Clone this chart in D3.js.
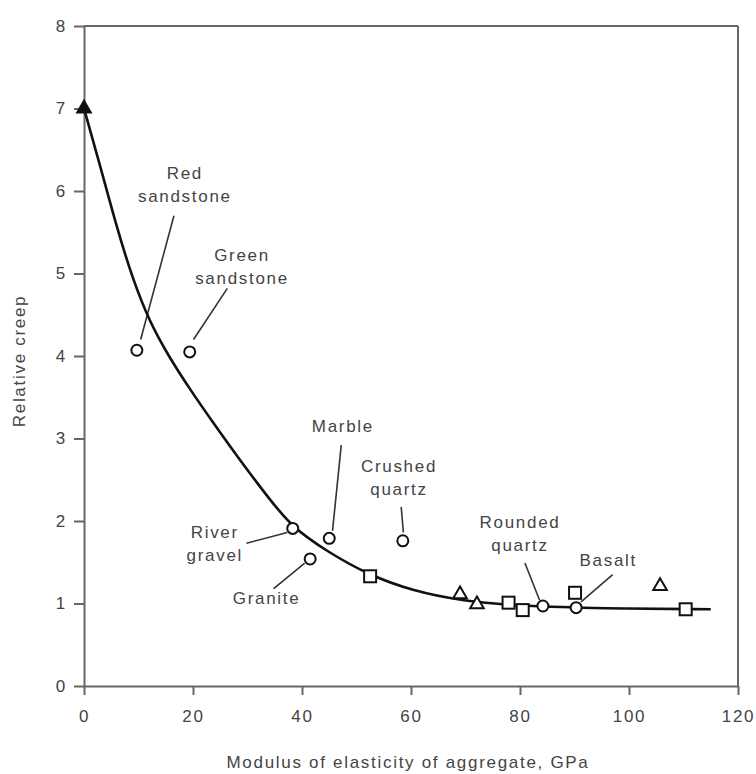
<!DOCTYPE html>
<html>
<head>
<meta charset="utf-8">
<script src="https://cdn.jsdelivr.net/npm/d3@7"></script>
<style>
  body { margin: 0; background: #fff; }
  text { font-family: "Liberation Sans", Arial, sans-serif; fill: #444; letter-spacing: 1.7px; }
</style>
</head>
<body>
<script>
// Chart size and plot margins
const width = 756;
const height = 774;
const margin = { top: 26, right: 18, bottom: 88, left: 84 };

// Data
const circlePts = [[9.7, 4.07], [19.4, 4.05], [38.3, 1.91], [41.5, 1.54], [45.0, 1.79], [58.5, 1.76], [84.2, 0.97], [90.3, 0.95]];
const squarePts = [[52.5, 1.33], [77.9, 1.01], [80.5, 0.92], [90.1, 1.13], [110.4, 0.93]];
const trianglePts = [[0, 7.0], [69.0, 1.11], [72.1, 0.99], [105.7, 1.21]];
const curvePts = [[0, 7.0], [3, 6.3], [6, 5.56], [9, 4.92], [12, 4.42], [15.5, 4.0], [19.4, 3.6], [23.7, 3.19], [29.9, 2.62], [34, 2.27], [38.1, 1.93], [44.6, 1.63], [52.1, 1.35], [60.4, 1.15], [69.5, 1.03], [80, 0.97], [95, 0.94], [115, 0.93]];
const xTicks = [0, 20, 40, 60, 80, 100, 120];
const yTicks = [0, 1, 2, 3, 4, 5, 6, 7, 8];

// Annotations: text lines, label anchor (data units), leader line end points (data units)
const labels = [
  { lines: ["Red", "sandstone"], at: [18.5, 6.15], from: [16.5, 5.7], to: [10.4, 4.2] },
  { lines: ["Green", "sandstone"], at: [29.0, 5.15], from: [26.3, 4.82], to: [20.1, 4.2] },
  { lines: ["River", "gravel"], at: [24.0, 1.8], from: [29.8, 1.73], to: [37.3, 1.86] },
  { lines: ["Granite"], at: [33.5, 1.0], from: [34.8, 1.18], to: [40.5, 1.49] },
  { lines: ["Marble"], at: [47.5, 3.08], from: [47.2, 2.92], to: [45.6, 1.88] },
  { lines: ["Crushed", "quartz"], at: [57.8, 2.6], from: [58.2, 2.17], to: [58.6, 1.86] },
  { lines: ["Rounded", "quartz"], at: [80.0, 1.92], from: [80.9, 1.49], to: [83.6, 1.04] },
  { lines: ["Basalt"], at: [96.2, 1.46], from: [97.0, 1.35], to: [91.2, 1.02] }
];

const svg = d3.select("body").append("svg")
    .attr("width", width)
    .attr("height", height);

const x = d3.scaleLinear().domain([0, 120]).range([margin.left, width - margin.right]);
const y = d3.scaleLinear().domain([0, 8]).range([height - margin.bottom, margin.top]);

const axisColor = "#666";
const fontSize = 17;

// x axis (ticks pointing down)
const xAxis = svg.append("g")
    .attr("transform", `translate(0,${y(0)})`)
    .call(d3.axisBottom(x).tickValues(xTicks).tickSize(9).tickPadding(15).tickSizeOuter(0));

// y axis (ticks pointing left)
const yAxis = svg.append("g")
    .attr("transform", `translate(${x(0)},0)`)
    .call(d3.axisLeft(y).tickValues(yTicks).tickSize(10).tickPadding(7).tickSizeOuter(0));

[xAxis, yAxis].forEach(g => {
  g.select(".domain").attr("stroke", axisColor).attr("stroke-width", 2);
  g.selectAll(".tick line").attr("stroke", axisColor).attr("stroke-width", 2);
  g.selectAll(".tick text").attr("font-size", fontSize).attr("fill", "#444")
    .style("font-family", "'Liberation Sans', Arial, sans-serif");
});

// top and right frame lines
svg.append("line")
    .attr("x1", x(0)).attr("x2", x(120))
    .attr("y1", y(8)).attr("y2", y(8))
    .attr("stroke", axisColor).attr("stroke-width", 2);
svg.append("line")
    .attr("x1", x(120)).attr("x2", x(120))
    .attr("y1", y(8)).attr("y2", y(0))
    .attr("stroke", axisColor).attr("stroke-width", 2);

// axis titles
svg.append("text")
    .attr("x", 408)
    .attr("y", 768)
    .attr("text-anchor", "middle")
    .attr("font-size", fontSize)
    .text("Modulus of elasticity of aggregate, GPa");

svg.append("text")
    .attr("transform", `translate(25,361)rotate(-90)`)
    .attr("text-anchor", "middle")
    .attr("font-size", fontSize)
    .text("Relative creep");

// leader lines
svg.append("g")
  .selectAll("line")
  .data(labels)
  .join("line")
    .attr("x1", d => x(d.from[0])).attr("y1", d => y(d.from[1]))
    .attr("x2", d => x(d.to[0])).attr("y2", d => y(d.to[1]))
    .attr("stroke", "#333").attr("stroke-width", 1.6);

// label text
const lab = svg.append("g")
  .selectAll("text")
  .data(labels)
  .join("text")
    .attr("x", d => x(d.at[0]))
    .attr("y", d => y(d.at[1]))
    .attr("text-anchor", "middle")
    .attr("font-size", fontSize);
lab.selectAll("tspan")
  .data(d => d.lines.map((t, i) => ({ t, i, x: x(d.at[0]) })))
  .join("tspan")
    .attr("x", d => d.x)
    .attr("dy", d => d.i === 0 ? 0 : 23)
    .text(d => d.t);

// fitted curve
const line = d3.line()
    .x(d => x(d[0]))
    .y(d => y(d[1]))
    .curve(d3.curveBasis);

svg.append("path")
    .datum(curvePts)
    .attr("d", line)
    .attr("fill", "none")
    .attr("stroke", "#111")
    .attr("stroke-width", 2.6);

// markers
const markerStroke = "#111";

svg.append("g")
  .selectAll("circle")
  .data(circlePts)
  .join("circle")
    .attr("cx", d => x(d[0]))
    .attr("cy", d => y(d[1]))
    .attr("r", 5.5)
    .attr("fill", "#fff")
    .attr("stroke", markerStroke)
    .attr("stroke-width", 2);

svg.append("g")
  .selectAll("rect")
  .data(squarePts)
  .join("rect")
    .attr("x", d => x(d[0]) - 6)
    .attr("y", d => y(d[1]) - 6)
    .attr("width", 12)
    .attr("height", 12)
    .attr("fill", "#fff")
    .attr("stroke", markerStroke)
    .attr("stroke-width", 2);

const tri = d3.symbol().type(d3.symbolTriangle).size(80);
svg.append("g")
  .selectAll("path")
  .data(trianglePts)
  .join("path")
    .attr("transform", d => `translate(${x(d[0])},${y(d[1])})`)
    .attr("d", tri)
    .attr("fill", (d, i) => i === 0 ? "#111" : "#fff")
    .attr("stroke", markerStroke)
    .attr("stroke-width", 2);
</script>
</body>
</html>
